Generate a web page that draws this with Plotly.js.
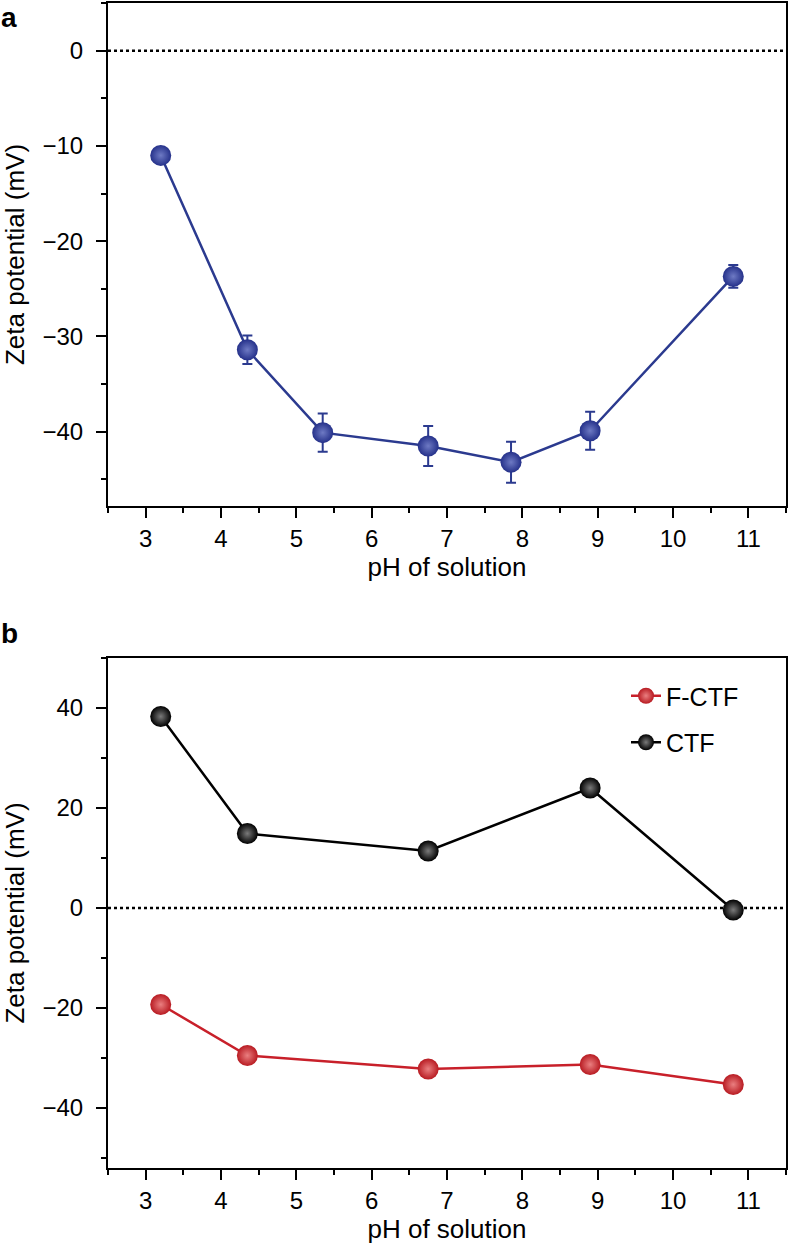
<!DOCTYPE html>
<html>
<head>
<meta charset="utf-8">
<script src="https://cdn.plot.ly/plotly-3.0.1.min.js"></script>
<style>html,body{margin:0;padding:0;background:#fff;}#chart{width:788px;height:1251px;}</style>
</head>
<body>
<div id="chart"></div>
<script>
// Panel a: blue series with error bars
const phA = [3.2, 4.35, 5.35, 6.75, 7.85, 8.9, 10.8];
const zetaA = [-11.0, -31.4, -40.1, -41.5, -43.2, -39.9, -23.7];
const errA = [0.4, 1.5, 2.0, 2.1, 2.15, 2.0, 1.2];

// Panel b: two series
const phB = [3.2, 4.35, 6.75, 8.9, 10.8];
const zetaFCTF = [-19.3, -29.5, -32.2, -31.3, -35.3];
const zetaCTF = [38.3, 14.9, 11.4, 24.0, -0.4];

const xTickVals = [3, 4, 5, 6, 7, 8, 9, 10, 11];
const yTickValsA = [0, -10, -20, -30, -40];
const yTickValsB = [40, 20, 0, -20, -40];

const FONT = 'Liberation Sans, Arial, Helvetica, sans-serif';
const H = 1251, W = 788;
const L = 108, R = 786;
const topA = 3, botA = 506, topB = 658, botB = 1168;

function xaxisCfg(anchor) {
  return {
    domain: [L / W, R / W], anchor: anchor, range: [2.5, 11.5],
    tickvals: xTickVals, ticks: 'outside', ticklen: 10, tickwidth: 2, tickcolor: '#000',
    minor: {dtick: 0.5, tick0: 2.5, ticks: 'outside', ticklen: 5, tickwidth: 2, tickcolor: '#000'},
    showline: true, linecolor: '#000', linewidth: 2, mirror: true,
    showgrid: false, zeroline: false,
    tickfont: {family: FONT, size: 24, color: '#000'},
    ticklabelstandoff: 0,
    title: {text: 'pH of solution', font: {family: FONT, size: 26, color: '#000'}, standoff: 1}
  };
}
function yaxisCfg(anchor, dom, range, vals, minorD) {
  return {
    domain: dom, anchor: anchor, range: range,
    tickvals: vals, ticks: 'outside', ticklen: 10, tickwidth: 2, tickcolor: '#000',
    minor: {dtick: minorD, ticks: 'outside', ticklen: 5, tickwidth: 2, tickcolor: '#000'},
    showline: true, linecolor: '#000', linewidth: 2, mirror: true,
    showgrid: false, zeroline: false,
    tickfont: {family: FONT, size: 24, color: '#000'},
    ticklabelstandoff: 8,
    title: {text: 'Zeta potential (mV)', font: {family: FONT, size: 26, color: '#000'}, standoff: 11}
  };
}

const traces = [
  {
    x: phA, y: zetaA, xaxis: 'x', yaxis: 'y', type: 'scatter', mode: 'lines+markers',
    showlegend: false,
    line: {color: '#2b3a8f', width: 2.5},
    marker: {size: 21, color: '#25318a', gradient: {type: 'radial', color: '#6e7ac4'}, line: {width: 0}},
    error_y: {type: 'data', array: errA, visible: true, color: '#2b3a8f', thickness: 2, width: 5}
  },
  {
    x: phB, y: zetaFCTF, xaxis: 'x2', yaxis: 'y2', type: 'scatter', mode: 'lines+markers',
    name: 'F-CTF', legendgroup: 'f',
    line: {color: '#c8202a', width: 2.5},
    marker: {size: 21, color: '#b81b22', gradient: {type: 'radial', color: '#ea7f80'}, line: {width: 0}}
  },
  {
    x: phB, y: zetaCTF, xaxis: 'x2', yaxis: 'y2', type: 'scatter', mode: 'lines+markers',
    name: 'CTF', legendgroup: 'c',
    line: {color: '#000', width: 2.5},
    marker: {size: 21, color: '#000', gradient: {type: 'radial', color: '#7a7a7a'}, line: {width: 0}}
  }
];

const layout = {
  width: W, height: H,
  margin: {l: 0, r: 0, t: 0, b: 0},
  paper_bgcolor: '#fff', plot_bgcolor: '#fff',
  font: {family: FONT, color: '#000'},
  xaxis: xaxisCfg('y'),
  yaxis: yaxisCfg('x', [1 - botA / H, 1 - topA / H], [-47.8, 5], yTickValsA, 5),
  xaxis2: xaxisCfg('y2'),
  yaxis2: yaxisCfg('x2', [1 - botB / H, 1 - topB / H], [-52, 50], yTickValsB, 10),
  showlegend: true,
  legend: {
    x: 626 / W, xanchor: 'left', y: 1 - 673 / H, yanchor: 'top',
    bgcolor: 'rgba(0,0,0,0)', borderwidth: 0,
    font: {family: FONT, size: 25, color: '#000'},
    tracegroupgap: 11, traceorder: 'grouped'
  },
  shapes: [
    {type: 'line', xref: 'x domain', yref: 'y', x0: 0, x1: 1, y0: 0, y1: 0,
     line: {color: '#000', width: 2.5, dash: 'dot'}, layer: 'below'},
    {type: 'line', xref: 'x2 domain', yref: 'y2', x0: 0, x1: 1, y0: 0, y1: 0,
     line: {color: '#000', width: 2.5, dash: 'dot'}, layer: 'below'}
  ],
  annotations: [
    {text: '<b>a</b>', xref: 'paper', yref: 'paper', x: 0, y: 1, xanchor: 'left', yanchor: 'top',
     showarrow: false, font: {family: FONT, size: 28, color: '#000'}, xshift: -1, yshift: 0},
    {text: '<b>b</b>', xref: 'paper', yref: 'paper', x: 0, y: 1 - 616 / H, xanchor: 'left', yanchor: 'top',
     showarrow: false, font: {family: FONT, size: 28, color: '#000'}, xshift: -1}
  ]
};

Plotly.newPlot('chart', traces, layout, {displayModeBar: false, staticPlot: true});
</script>
</body>
</html>
